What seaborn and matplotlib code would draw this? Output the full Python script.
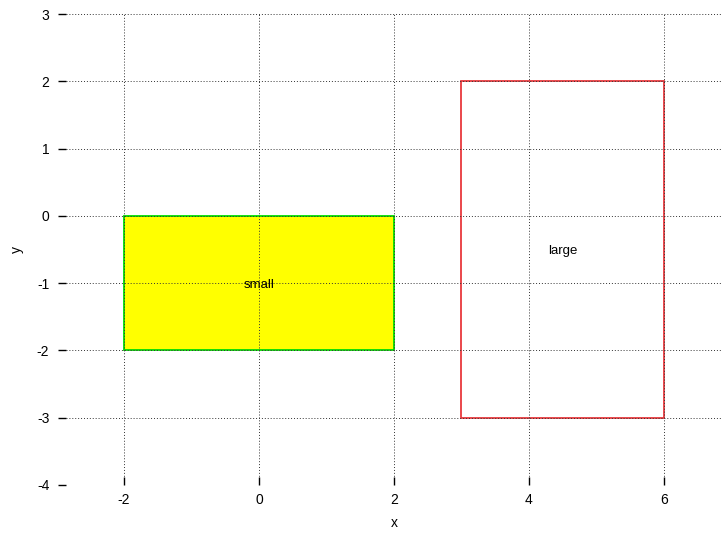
import matplotlib
matplotlib.use("Agg")
import matplotlib.pyplot as plt
import seaborn as sns
from matplotlib.patches import Rectangle

# rectangle data
labels = ["small", "large"]
x0 = [-2, 3]
y0 = [-2, -3]
widths = [4, 3]
heights = [2, 5]
facecolors = ["#ffff00", "none"]
edgecolors = ["#00dd00", "#e8383d"]

xticks = [-2, 0, 2, 4, 6]
yticks = [-4, -3, -2, -1, 0, 1, 2, 3]

sns.set_theme(style="white")
plt.rcParams["font.family"] = ["Liberation Sans", "DejaVu Sans"]
plt.rcParams["axes.unicode_minus"] = False
plt.rcParams["text.color"] = "black"
plt.rcParams["axes.labelcolor"] = "black"
plt.rcParams["xtick.color"] = "black"
plt.rcParams["ytick.color"] = "black"

fig = plt.figure(figsize=(7.22, 5.33), dpi=100)
ax = fig.add_axes([66 / 722, 48 / 533, (722 - 66) / 722, 471 / 533])

for lab, x, y, w, h, fc, ec in zip(labels, x0, y0, widths, heights, facecolors, edgecolors):
    ax.add_patch(Rectangle((x, y), w, h, facecolor=fc, edgecolor=ec, linewidth=1.3, zorder=1))
    ax.text(x + w / 2, y + h / 2, lab, ha="center", va="center_baseline",
            fontsize=9.5, color="black", zorder=3)

ax.set_xlim(-2.86, 6.86)
ax.set_ylim(-4, 3)
ax.set_xticks(xticks)
ax.set_yticks(yticks)
ax.set_axisbelow(False)
ax.grid(True, linestyle=(0, (1, 2)), color="#333333", linewidth=0.7)
for s in ax.spines.values():
    s.set_visible(False)
ax.tick_params(axis="x", direction="in", length=6, width=1, labelsize=10, pad=6, bottom=True)
ax.tick_params(axis="y", direction="out", length=6, width=1, labelsize=10, pad=6, left=True)
ax.set_xlabel("x", fontsize=10, labelpad=6)
ax.set_ylabel("y", fontsize=10, labelpad=9)

fig.savefig("out.png", dpi=100)
